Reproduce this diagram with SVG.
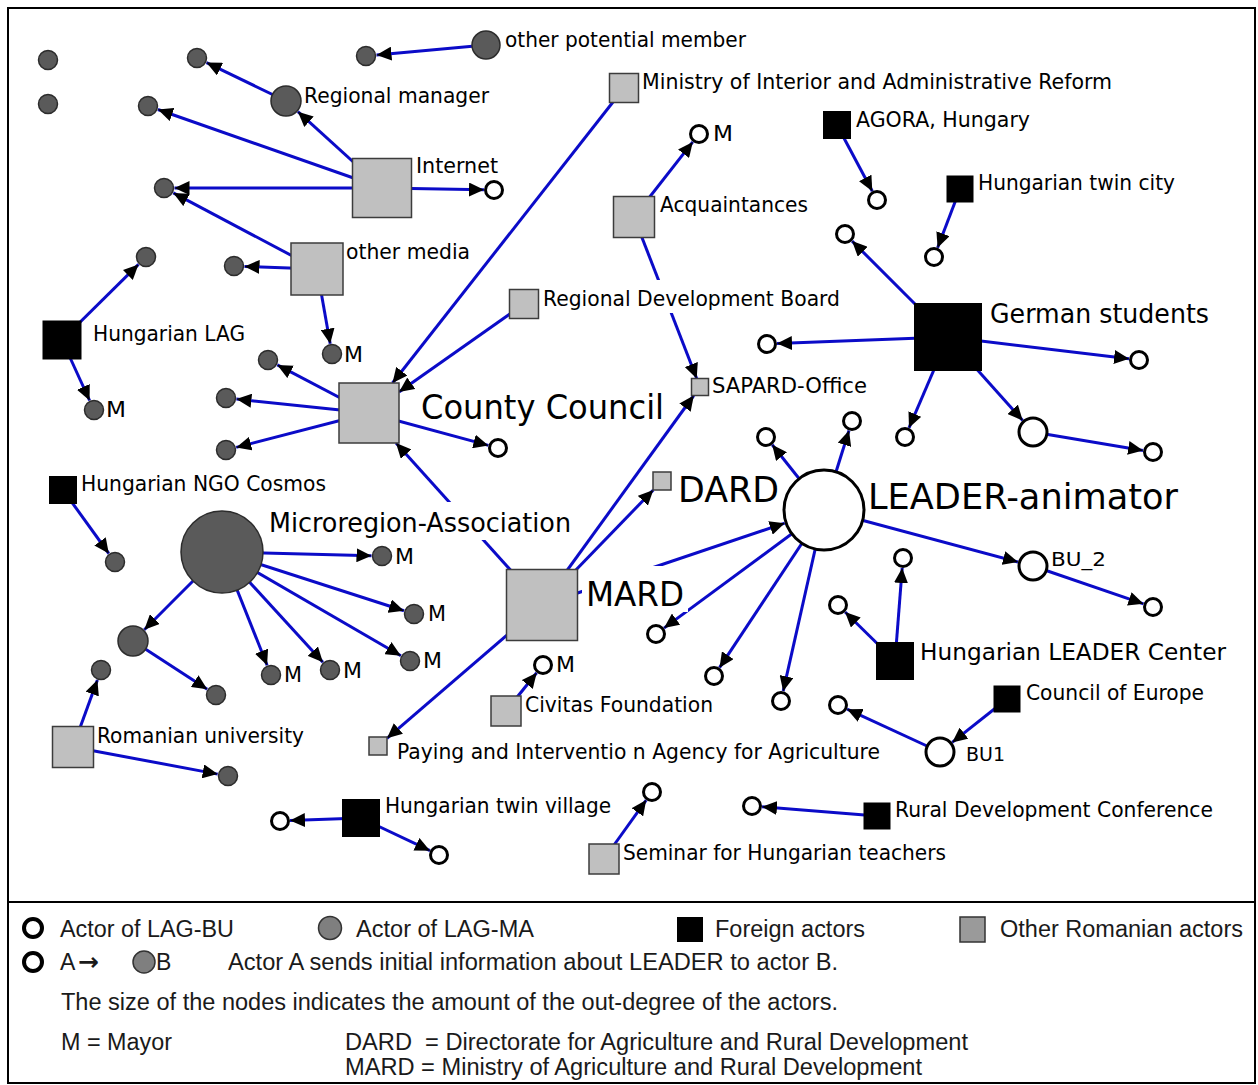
<svg xmlns="http://www.w3.org/2000/svg" width="1258" height="1085" viewBox="0 0 1258 1085">
  <defs>
    <marker id="arr" markerUnits="userSpaceOnUse" markerWidth="16" markerHeight="14" refX="15" refY="7" orient="auto">
      <path d="M0,0 L15,7 L0,14 z" fill="#000"/>
    </marker>
  </defs>
  <style>
    .e { stroke: #0b0bc8; stroke-width: 3; fill: none; marker-end: url(#arr); }
    .ma { fill: #5a5a5a; stroke: #2c2c2c; stroke-width: 1.5; }
    .bu { fill: #fff; stroke: #000; stroke-width: 3; }
    .ro { fill: #c0c0c0; stroke: #3c3c3c; stroke-width: 1.5; }
    .fo { fill: #000; }
    .bg { fill: #fff; }
    .lb { font-family: "DejaVu Sans", Verdana, sans-serif; font-size: 21px; fill: #000; }
    .lb.s20 { font-size: 20px; }
    .lb.s23 { font-size: 23px; }
    .lb.s26 { font-size: 26px; }
    .lb.s34 { font-size: 34px; }
    .lb.s36 { font-size: 36px; }
    .lg { font-family: "Liberation Sans", Arial, sans-serif; font-size: 23px; fill: #1a1a1a; }
  </style>

  <!-- frame and legend separator -->
  <rect x="8" y="8" width="1247" height="1075" fill="#fff" stroke="#000" stroke-width="2"/>
  <line x1="8" y1="902" x2="1255" y2="902" stroke="#000" stroke-width="2"/>

  <!-- connectors: source -> target, arrowhead at the target -->
  <g id="connectors">
    <line class="e" x1="286" y1="101" x2="206.5" y2="62.6"/>
    <line class="e" x1="486" y1="45" x2="376.5" y2="55"/>
    <line class="e" x1="382" y1="188" x2="297.9" y2="111.7"/>
    <line class="e" x1="382" y1="188" x2="157.9" y2="109.5"/>
    <line class="e" x1="382" y1="188" x2="174.5" y2="188"/>
    <line class="e" x1="382" y1="188" x2="484" y2="189.8"/>
    <line class="e" x1="317" y1="269" x2="173.3" y2="192.9"/>
    <line class="e" x1="317" y1="269" x2="244.5" y2="266.4"/>
    <line class="e" x1="317" y1="269" x2="330.2" y2="343.7"/>
    <line class="e" x1="62" y1="340" x2="138.5" y2="264.4"/>
    <line class="e" x1="62" y1="340" x2="89.6" y2="400.5"/>
    <line class="e" x1="369" y1="413" x2="277.3" y2="364.9"/>
    <line class="e" x1="369" y1="413" x2="236.4" y2="399.1"/>
    <line class="e" x1="369" y1="413" x2="236.2" y2="447.4"/>
    <line class="e" x1="369" y1="413" x2="488.4" y2="445.4"/>
    <line class="e" x1="624" y1="88" x2="392.5" y2="383"/>
    <line class="e" x1="524" y1="304" x2="399" y2="391.9"/>
    <line class="e" x1="542" y1="605" x2="396" y2="443"/>
    <line class="e" x1="634" y1="217" x2="692.8" y2="141.9"/>
    <line class="e" x1="634" y1="217" x2="696.7" y2="378.5"/>
    <line class="e" x1="542" y1="605" x2="693.8" y2="395.5"/>
    <line class="e" x1="542" y1="605" x2="653.3" y2="490"/>
    <line class="e" x1="542" y1="605" x2="784.7" y2="523.2"/>
    <line class="e" x1="542" y1="605" x2="387" y2="738.3"/>
    <line class="e" x1="837" y1="125" x2="872.3" y2="191.2"/>
    <line class="e" x1="960" y1="189" x2="937.6" y2="247.7"/>
    <line class="e" x1="948" y1="337" x2="852.1" y2="241.1"/>
    <line class="e" x1="948" y1="337" x2="777" y2="343.6"/>
    <line class="e" x1="948" y1="337" x2="1129.1" y2="358.8"/>
    <line class="e" x1="948" y1="337" x2="909" y2="427.8"/>
    <line class="e" x1="948" y1="337" x2="1022.7" y2="420.5"/>
    <line class="e" x1="1033" y1="432" x2="1143.1" y2="450.4"/>
    <line class="e" x1="824" y1="510" x2="772.2" y2="444.8"/>
    <line class="e" x1="824" y1="510" x2="849" y2="430.5"/>
    <line class="e" x1="824" y1="510" x2="1018" y2="562"/>
    <line class="e" x1="824" y1="510" x2="664" y2="628.1"/>
    <line class="e" x1="824" y1="510" x2="719.5" y2="667.7"/>
    <line class="e" x1="824" y1="510" x2="783.2" y2="691.2"/>
    <line class="e" x1="1033" y1="566" x2="1143.5" y2="603.8"/>
    <line class="e" x1="895" y1="661" x2="845.1" y2="612"/>
    <line class="e" x1="895" y1="661" x2="902.2" y2="568"/>
    <line class="e" x1="1007" y1="699" x2="952.2" y2="742.4"/>
    <line class="e" x1="940" y1="752" x2="847.1" y2="709.2"/>
    <line class="e" x1="877" y1="816" x2="762" y2="806.8"/>
    <line class="e" x1="604" y1="859" x2="646.2" y2="800.1"/>
    <line class="e" x1="361" y1="818" x2="290" y2="820.6"/>
    <line class="e" x1="361" y1="818" x2="430" y2="850.7"/>
    <line class="e" x1="506" y1="711" x2="536.7" y2="672.8"/>
    <line class="e" x1="63" y1="490" x2="108.8" y2="553.5"/>
    <line class="e" x1="222" y1="552" x2="371.5" y2="555.7"/>
    <line class="e" x1="222" y1="552" x2="404" y2="610.8"/>
    <line class="e" x1="222" y1="552" x2="400.9" y2="655.7"/>
    <line class="e" x1="222" y1="552" x2="322.9" y2="662.3"/>
    <line class="e" x1="222" y1="552" x2="267.1" y2="665.2"/>
    <line class="e" x1="222" y1="552" x2="144.3" y2="629.7"/>
    <line class="e" x1="133" y1="641" x2="207.2" y2="689.3"/>
    <line class="e" x1="73" y1="747" x2="97.4" y2="679.9"/>
    <line class="e" x1="73" y1="747" x2="217.7" y2="774.1"/>
  </g>

  <!-- Romanian actors (grey squares) -->
  <g id="n-internet"><rect class="ro" x="352.5" y="158.5" width="59" height="59"/><text class="lb" x="416" y="173" textLength="82" lengthAdjust="spacingAndGlyphs">Internet</text></g>
  <g id="n-other-media"><rect class="ro" x="291" y="243" width="52" height="52"/><text class="lb" x="346" y="259" textLength="124" lengthAdjust="spacingAndGlyphs">other media</text></g>
  <g id="n-county-council"><rect class="ro" x="339" y="383" width="60" height="60"/><text class="lb s34" x="421" y="419" textLength="243" lengthAdjust="spacingAndGlyphs">County Council</text></g>
  <g id="n-mard"><rect class="ro" x="506.5" y="569.5" width="71" height="71"/><rect class="bg" x="582" y="566" width="106" height="46"/><text class="lb s34" x="586" y="606" textLength="98" lengthAdjust="spacingAndGlyphs">MARD</text></g>
  <g id="n-ministry-interior"><rect class="ro" x="609.5" y="73.5" width="29" height="29"/><text class="lb" x="642" y="89" textLength="470" lengthAdjust="spacingAndGlyphs">Ministry of Interior and Administrative Reform</text></g>
  <g id="n-acquaintances"><rect class="ro" x="613.5" y="196.5" width="41" height="41"/><text class="lb" x="660" y="212" textLength="148" lengthAdjust="spacingAndGlyphs">Acquaintances</text></g>
  <g id="n-regional-board"><rect class="ro" x="509.5" y="289.5" width="29" height="29"/><rect class="bg" x="540" y="280" width="302" height="33"/><text class="lb" x="543" y="306" textLength="297" lengthAdjust="spacingAndGlyphs">Regional Development Board</text></g>
  <g id="n-sapard"><rect class="ro" x="691.5" y="378.5" width="17" height="17"/><text class="lb" x="712" y="393" textLength="155" lengthAdjust="spacingAndGlyphs">SAPARD-Office</text></g>
  <g id="n-dard"><rect class="ro" x="653" y="472" width="18" height="18"/><text class="lb s36" x="678" y="502" textLength="101" lengthAdjust="spacingAndGlyphs">DARD</text></g>
  <g id="n-civitas"><rect class="ro" x="491" y="696" width="30" height="30"/><text class="lb" x="525" y="712" textLength="188" lengthAdjust="spacingAndGlyphs">Civitas Foundation</text></g>
  <g id="n-paying-agency"><rect class="ro" x="369" y="737" width="18" height="18"/><text class="lb" x="397" y="759" textLength="483" lengthAdjust="spacingAndGlyphs">Paying and Interventio n Agency for Agriculture</text></g>
  <g id="n-seminar"><rect class="ro" x="589" y="844" width="30" height="30"/><text class="lb" x="623" y="860" textLength="323" lengthAdjust="spacingAndGlyphs">Seminar for Hungarian teachers</text></g>
  <g id="n-romanian-university"><rect class="ro" x="52.5" y="726.5" width="41" height="41"/><text class="lb" x="97" y="743" textLength="207" lengthAdjust="spacingAndGlyphs">Romanian university</text></g>

  <!-- foreign actors (black squares) -->
  <g id="n-agora"><rect class="fo" x="823" y="111" width="28" height="28"/><text class="lb" x="856" y="127" textLength="174" lengthAdjust="spacingAndGlyphs">AGORA, Hungary</text></g>
  <g id="n-hu-twin-city"><rect class="fo" x="946.5" y="175.5" width="27" height="27"/><text class="lb" x="978" y="190" textLength="197" lengthAdjust="spacingAndGlyphs">Hungarian twin city</text></g>
  <g id="n-german-students"><rect class="fo" x="914" y="303" width="68" height="68"/><text class="lb s26" x="990" y="323" textLength="219" lengthAdjust="spacingAndGlyphs">German students</text></g>
  <g id="n-hu-lag"><rect class="fo" x="42.5" y="320.5" width="39" height="39"/><text class="lb" x="93" y="341" textLength="152" lengthAdjust="spacingAndGlyphs">Hungarian LAG</text></g>
  <g id="n-ngo-cosmos"><rect class="fo" x="49" y="476" width="28" height="28"/><text class="lb" x="81" y="491" textLength="245" lengthAdjust="spacingAndGlyphs">Hungarian NGO Cosmos</text></g>
  <g id="n-hu-leader-center"><rect class="fo" x="876" y="642" width="38" height="38"/><text class="lb s23" x="920" y="660" textLength="306" lengthAdjust="spacingAndGlyphs">Hungarian LEADER Center</text></g>
  <g id="n-council-europe"><rect class="fo" x="993.5" y="685.5" width="27" height="27"/><text class="lb" x="1026" y="700" textLength="178" lengthAdjust="spacingAndGlyphs">Council of Europe</text></g>
  <g id="n-rural-conference"><rect class="fo" x="863.5" y="802.5" width="27" height="27"/><text class="lb" x="895" y="817" textLength="318" lengthAdjust="spacingAndGlyphs">Rural Development Conference</text></g>
  <g id="n-hu-twin-village"><rect class="fo" x="342" y="799" width="38" height="38"/><text class="lb" x="385" y="813" textLength="226" lengthAdjust="spacingAndGlyphs">Hungarian twin village</text></g>

  <!-- LAG-MA actors (dark grey circles) -->
  <g id="n-regional-manager"><circle class="ma" cx="286" cy="101" r="15"/><text class="lb" x="304" y="103" textLength="185" lengthAdjust="spacingAndGlyphs">Regional manager</text></g>
  <g id="n-other-potential"><circle class="ma" cx="486" cy="45" r="14"/><text class="lb" x="505" y="47" textLength="241" lengthAdjust="spacingAndGlyphs">other potential member</text></g>
  <g id="n-microregion"><circle class="ma" cx="222" cy="552" r="41"/><rect class="bg" x="267" y="502" width="306" height="38"/><text class="lb s26" x="269" y="532" textLength="302" lengthAdjust="spacingAndGlyphs">Microregion-Association</text></g>
  <g id="n-ma-23"><circle class="ma" cx="133" cy="641" r="15"/></g>
  <g id="n-ma-01"><circle class="ma" cx="48" cy="60" r="9.5"/></g>
  <g id="n-ma-02"><circle class="ma" cx="48" cy="104" r="9.5"/></g>
  <g id="n-ma-03"><circle class="ma" cx="197" cy="58" r="9.5"/></g>
  <g id="n-ma-04"><circle class="ma" cx="366" cy="56" r="9.5"/></g>
  <g id="n-ma-05"><circle class="ma" cx="148" cy="106" r="9.5"/></g>
  <g id="n-ma-06"><circle class="ma" cx="164" cy="188" r="9.5"/></g>
  <g id="n-ma-07"><circle class="ma" cx="234" cy="266" r="9.5"/></g>
  <g id="n-ma-08"><circle class="ma" cx="146" cy="257" r="9.5"/></g>
  <g id="n-ma-09"><circle class="ma" cx="332" cy="354" r="9.5"/><text class="lb" x="344" y="362" textLength="19" lengthAdjust="spacingAndGlyphs">M</text></g>
  <g id="n-ma-10"><circle class="ma" cx="94" cy="410" r="9.5"/><text class="lb" x="106" y="417" textLength="20" lengthAdjust="spacingAndGlyphs">M</text></g>
  <g id="n-ma-11"><circle class="ma" cx="268" cy="360" r="9.5"/></g>
  <g id="n-ma-12"><circle class="ma" cx="226" cy="398" r="9.5"/></g>
  <g id="n-ma-13"><circle class="ma" cx="226" cy="450" r="9.5"/></g>
  <g id="n-ma-14"><circle class="ma" cx="115" cy="562" r="9.5"/></g>
  <g id="n-ma-15"><circle class="ma" cx="382" cy="556" r="9.5"/><text class="lb" x="395" y="564" textLength="19" lengthAdjust="spacingAndGlyphs">M</text></g>
  <g id="n-ma-16"><circle class="ma" cx="414" cy="614" r="9.5"/><text class="lb" x="428" y="621" textLength="18" lengthAdjust="spacingAndGlyphs">M</text></g>
  <g id="n-ma-17"><circle class="ma" cx="410" cy="661" r="9.5"/><text class="lb" x="423" y="668" textLength="19" lengthAdjust="spacingAndGlyphs">M</text></g>
  <g id="n-ma-18"><circle class="ma" cx="271" cy="675" r="9.5"/><text class="lb" x="284" y="682" textLength="18" lengthAdjust="spacingAndGlyphs">M</text></g>
  <g id="n-ma-19"><circle class="ma" cx="330" cy="670" r="9.5"/><text class="lb" x="343" y="678" textLength="19" lengthAdjust="spacingAndGlyphs">M</text></g>
  <g id="n-ma-20"><circle class="ma" cx="216" cy="695" r="9.5"/></g>
  <g id="n-ma-21"><circle class="ma" cx="101" cy="670" r="9.5"/></g>
  <g id="n-ma-22"><circle class="ma" cx="228" cy="776" r="9.5"/></g>

  <!-- LAG-BU actors (white circles) -->
  <g id="n-leader-animator"><circle class="bu" cx="824" cy="510" r="40"/><text class="lb s36" x="868" y="509" textLength="310" lengthAdjust="spacingAndGlyphs">LEADER-animator</text></g>
  <g id="n-bu-2"><circle class="bu" cx="1033" cy="566" r="14"/><text class="lb s20" x="1051" y="566" textLength="55" lengthAdjust="spacingAndGlyphs">BU_2</text></g>
  <g id="n-bu1"><circle class="bu" cx="940" cy="752" r="14"/><text class="lb s20" x="966" y="761" textLength="39" lengthAdjust="spacingAndGlyphs">BU1</text></g>
  <g id="n-bu-24"><circle class="bu" cx="1033" cy="432" r="14"/></g>
  <g id="n-bu-01"><circle class="bu" cx="494" cy="190" r="8.5"/></g>
  <g id="n-bu-02"><circle class="bu" cx="699" cy="134" r="8.5"/><text class="lb" x="713" y="141" textLength="20" lengthAdjust="spacingAndGlyphs">M</text></g>
  <g id="n-bu-03"><circle class="bu" cx="877" cy="200" r="8.5"/></g>
  <g id="n-bu-04"><circle class="bu" cx="934" cy="257" r="8.5"/></g>
  <g id="n-bu-05"><circle class="bu" cx="845" cy="234" r="8.5"/></g>
  <g id="n-bu-06"><circle class="bu" cx="767" cy="344" r="8.5"/></g>
  <g id="n-bu-07"><circle class="bu" cx="1139" cy="360" r="8.5"/></g>
  <g id="n-bu-08"><circle class="bu" cx="905" cy="437" r="8.5"/></g>
  <g id="n-bu-09"><circle class="bu" cx="1153" cy="452" r="8.5"/></g>
  <g id="n-bu-10"><circle class="bu" cx="498" cy="448" r="8.5"/></g>
  <g id="n-bu-11"><circle class="bu" cx="766" cy="437" r="8.5"/></g>
  <g id="n-bu-12"><circle class="bu" cx="852" cy="421" r="8.5"/></g>
  <g id="n-bu-13"><circle class="bu" cx="656" cy="634" r="8.5"/></g>
  <g id="n-bu-14"><circle class="bu" cx="714" cy="676" r="8.5"/></g>
  <g id="n-bu-15"><circle class="bu" cx="781" cy="701" r="8.5"/></g>
  <g id="n-bu-16"><circle class="bu" cx="1153" cy="607" r="8.5"/></g>
  <g id="n-bu-17"><circle class="bu" cx="838" cy="605" r="8.5"/></g>
  <g id="n-bu-18"><circle class="bu" cx="903" cy="558" r="8.5"/></g>
  <g id="n-bu-19"><circle class="bu" cx="838" cy="705" r="8.5"/></g>
  <g id="n-bu-20"><circle class="bu" cx="752" cy="806" r="8.5"/></g>
  <g id="n-bu-21"><circle class="bu" cx="652" cy="792" r="8.5"/></g>
  <g id="n-bu-22"><circle class="bu" cx="280" cy="821" r="8.5"/></g>
  <g id="n-bu-23"><circle class="bu" cx="439" cy="855" r="8.5"/></g>
  <g id="n-bu-25"><circle class="bu" cx="543" cy="665" r="8.5"/><text class="lb" x="556" y="672" textLength="19" lengthAdjust="spacingAndGlyphs">M</text></g>

  <!-- legend -->
  <g id="legend">
    <circle cx="33" cy="928" r="9" fill="#fff" stroke="#000" stroke-width="4"/>
    <text class="lg" x="60" y="937" textLength="174" lengthAdjust="spacingAndGlyphs">Actor of LAG-BU</text>
    <circle cx="330" cy="928" r="11.5" fill="#7f7f7f" stroke="#333" stroke-width="1.5"/>
    <text class="lg" x="356" y="937" textLength="178" lengthAdjust="spacingAndGlyphs">Actor of LAG-MA</text>
    <rect x="677" y="917" width="26" height="25" fill="#000"/>
    <text class="lg" x="715" y="937" textLength="150" lengthAdjust="spacingAndGlyphs">Foreign actors</text>
    <rect x="960" y="917" width="25" height="25" fill="#9a9a9a" stroke="#333" stroke-width="1.5"/>
    <text class="lg" x="1000" y="937" textLength="243" lengthAdjust="spacingAndGlyphs">Other Romanian actors</text>

    <circle cx="33" cy="962" r="9" fill="#fff" stroke="#000" stroke-width="4"/>
    <text class="lg" x="60" y="970">A</text>
    <text x="78" y="970" font-family="DejaVu Sans, sans-serif" font-size="24" font-weight="bold" fill="#1a1a1a" textLength="21" lengthAdjust="spacingAndGlyphs">→</text>
    <circle cx="144" cy="962" r="11" fill="#7f7f7f" stroke="#333" stroke-width="1.5"/>
    <text class="lg" x="156" y="970">B</text>
    <text class="lg" x="228" y="970" textLength="610" lengthAdjust="spacingAndGlyphs">Actor A sends initial information about LEADER to actor B.</text>

    <text class="lg" x="61" y="1010" textLength="777" lengthAdjust="spacingAndGlyphs">The size of the nodes indicates the amount of the out-degree of the actors.</text>

    <text class="lg" x="61" y="1050" textLength="111" lengthAdjust="spacingAndGlyphs">M = Mayor</text>
    <text class="lg" x="345" y="1050" textLength="623" lengthAdjust="spacingAndGlyphs" xml:space="preserve">DARD  = Directorate for Agriculture and Rural Development</text>
    <text class="lg" x="345" y="1075" textLength="577" lengthAdjust="spacingAndGlyphs">MARD = Ministry of Agriculture and Rural Development</text>
  </g>
</svg>
